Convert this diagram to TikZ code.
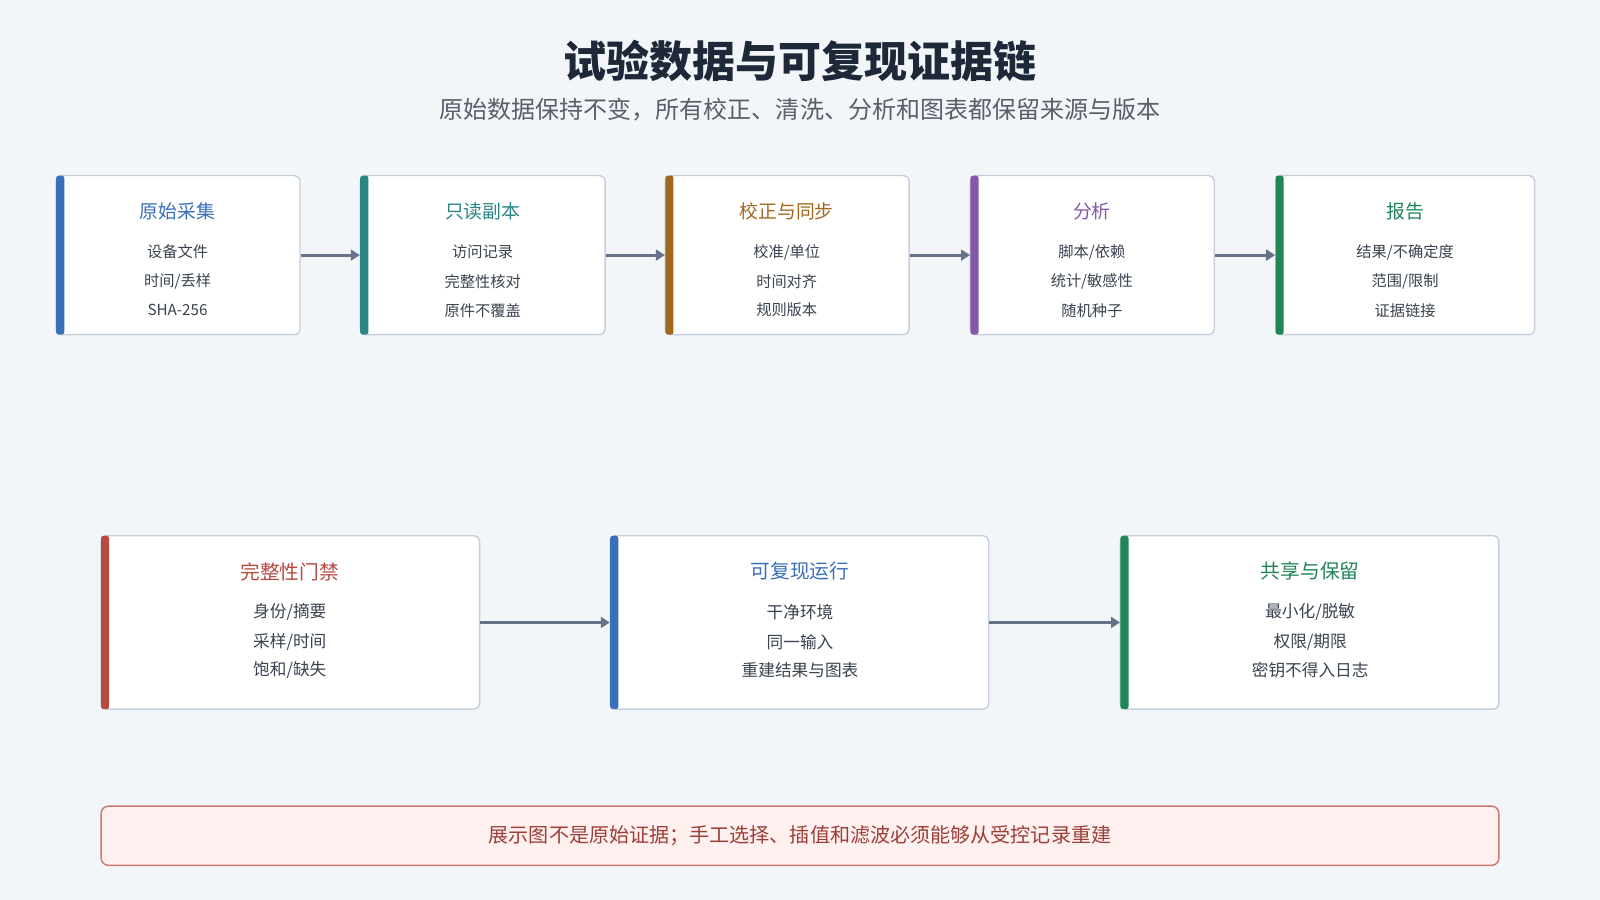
\documentclass[tikz,border=0pt]{standalone}
\usepackage{fontspec}
\setmainfont{Noto Sans CJK SC}
\usetikzlibrary{arrows.meta}
\definecolor{bgc}{HTML}{F3F6F9}
\definecolor{edgec}{HTML}{C5D0DC}
\definecolor{arrc}{HTML}{667386}
\definecolor{txtc}{HTML}{3A4350}
\definecolor{headc}{HTML}{1E2838}
\definecolor{bluec}{HTML}{3A70B8}
\definecolor{tealc}{HTML}{2A8585}
\definecolor{brownc}{HTML}{A3671C}
\definecolor{purpc}{HTML}{8558A8}
\definecolor{greenc}{HTML}{218558}
\definecolor{redc}{HTML}{B84A40}
\tikzset{
card/.style={rectangle, draw=edgec, fill=white, rounded corners=3pt, line width=0.8pt, inner sep=0pt, minimum width=#1},
bar/.style={rectangle, fill=#1, rounded corners=1.5pt, inner sep=0pt, minimum width=0.16cm},
ctitle/.style={text=#1, font=\fontsize{10.5}{12}\selectfont},
btitle/.style={text=#1, font=\fontsize{11}{13}\selectfont},
citem/.style={text=txtc, font=\fontsize{8.5}{10}\selectfont},
bitem/.style={text=txtc, font=\fontsize{9.3}{11}\selectfont},
flow/.style={draw=arrc, line width=1.6pt, -{Triangle[length=5pt,width=6pt]}},
}
\begin{document}
\begin{tikzpicture}[x=0.02cm,y=-0.02cm]
\fill[bgc] (0,0) rectangle (1568,882);
\node[font=\bfseries\fontsize{24}{28}\selectfont, text=headc] (title) at (784,60) {试验数据与可复现证据链};
\node[font=\fontsize{13.4}{16}\selectfont, text=txtc!85] (sub) at (784,107) {原始数据保持不变，所有校正、清洗、分析和图表都保留来源与版本};

% top row
\node[card=4.78cm, minimum height=3.12cm] (c1) at (174.5,250) {};
\node[card=4.80cm, minimum height=3.12cm] (c2) at (473,250) {};
\node[card=4.78cm, minimum height=3.12cm] (c3) at (771.5,250) {};
\node[card=4.78cm, minimum height=3.12cm] (c4) at (1070.5,250) {};
\node[card=5.08cm, minimum height=3.12cm] (c5) at (1377,250) {};
\node[bar=bluec, minimum height=3.12cm] (b1) at (59,250) {};
\node[bar=tealc, minimum height=3.12cm] (b2) at (357,250) {};
\node[bar=brownc, minimum height=3.12cm] (b3) at (656,250) {};
\node[bar=purpc, minimum height=3.12cm] (b4) at (955,250) {};
\node[bar=greenc, minimum height=3.12cm] (b5) at (1254,250) {};

\node[ctitle=bluec] at (174,207) {原始采集};
\node[citem] at (174,247) {设备文件};
\node[citem] at (174,276) {时间/丢样};
\node[citem] at (174,304) {SHA-256};
\node[ctitle=tealc] at (473,207) {只读副本};
\node[citem] at (473,247) {访问记录};
\node[citem] at (473,276) {完整性核对};
\node[citem] at (473,304) {原件不覆盖};
\node[ctitle=brownc] at (771,207) {校正与同步};
\node[citem] at (771,247) {校准/单位};
\node[citem] at (771,276) {时间对齐};
\node[citem] at (771,304) {规则版本};
\node[ctitle=purpc] at (1070,207) {分析};
\node[citem] at (1070,247) {脚本/依赖};
\node[citem] at (1070,276) {统计/敏感性};
\node[citem] at (1070,304) {随机种子};
\node[ctitle=greenc] at (1377,207) {报告};
\node[citem] at (1377,247) {结果/不确定度};
\node[citem] at (1377,276) {范围/限制};
\node[citem] at (1377,304) {证据链接};

\draw[flow] (c1.east) -- (b2.west);
\draw[flow] (c2.east) -- (b3.west);
\draw[flow] (c3.east) -- (b4.west);
\draw[flow] (c4.east) -- (b5.west);

% bottom row
\node[card=7.42cm, minimum height=3.40cm] (d1) at (284.5,610) {};
\node[card=7.42cm, minimum height=3.40cm] (d2) at (783.5,610) {};
\node[card=7.42cm, minimum height=3.40cm] (d3) at (1283.5,610) {};
\node[bar=redc, minimum height=3.40cm] (e1) at (103,610) {};
\node[bar=bluec, minimum height=3.40cm] (e2) at (602,610) {};
\node[bar=greenc, minimum height=3.40cm] (e3) at (1102,610) {};

\node[btitle=redc] at (284,560) {完整性门禁};
\node[bitem] at (284,600) {身份/摘要};
\node[bitem] at (284,629) {采样/时间};
\node[bitem] at (284,657) {饱和/缺失};
\node[btitle=bluec] at (784,560) {可复现运行};
\node[bitem] at (784,600) {干净环境};
\node[bitem] at (784,629) {同一输入};
\node[bitem] at (784,657) {重建结果与图表};
\node[btitle=greenc] at (1284,560) {共享与保留};
\node[bitem] at (1284,600) {最小化/脱敏};
\node[bitem] at (1284,629) {权限/期限};
\node[bitem] at (1284,657) {密钥不得入日志};

\draw[flow] (d1.east) -- (e2.west);
\draw[flow] (d2.east) -- (e3.west);

% note
\node[rectangle, draw=redc!75, fill=red!6, rounded corners=4pt, line width=0.8pt, minimum width=27.4cm, minimum height=1.16cm, text=redc!85!black, font=\fontsize{11.2}{13}\selectfont] (note) at (784,819) {展示图不是原始证据；手工选择、插值和滤波必须能够从受控记录重建};
\end{tikzpicture}
\end{document}
